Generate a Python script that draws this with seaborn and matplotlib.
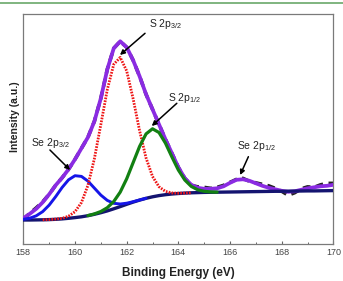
import matplotlib
matplotlib.use("Agg")
import matplotlib.pyplot as plt
from matplotlib.lines import Line2D
import seaborn as sns
import numpy as np

# ---------------- data ----------------
energy = [158.0, 158.25, 158.5, 158.75, 159.0, 159.25, 159.5, 159.75,
          160.0, 160.25, 160.5, 160.75, 161.0, 161.25, 161.5, 161.75,
          162.0, 162.25, 162.5, 162.75, 163.0, 163.25, 163.5, 163.75,
          164.0, 164.25, 164.5, 164.75, 165.0, 165.25, 165.5, 165.75,
          166.0, 166.25, 166.5, 166.75, 167.0, 167.25, 167.5, 167.75,
          168.0, 168.25, 168.5, 168.75, 169.0, 169.25, 169.5, 169.75, 170.0]

measured = [25, 31, 36.5, 42.5, 50, 59, 66.5, 75,
            85, 96, 107, 123, 146, 175, 196, 203,
            197, 184, 168, 150, 135, 120, 105, 91,
            77, 66, 59, 57.5, 57, 56, 57, 59,
            62, 65, 66, 63, 61.5, 60, 58.5, 56,
            53, 49, 51.5, 55.5, 57.5, 57, 59.5, 61, 61]

envelope = [26, 30.5, 35.5, 42, 50, 59, 66.5, 75,
            85, 96, 107, 123, 146, 175, 196, 203,
            197, 184, 168, 150, 135, 120, 105, 91,
            77, 66, 59.5, 56.5, 55.5, 55.5, 56, 58,
            61.5, 64.5, 65, 63.5, 61, 58.5, 56.5, 55,
            53.5, 52.5, 53, 54.5, 56, 57, 58, 58.5, 59.5]

background = [24.3, 24.3, 24.4, 24.5, 24.7, 25.0, 25.4, 26.0,
              26.7, 27.5, 28.6, 30.0, 31.6, 33.4, 35.5, 37.7,
              40.0, 42.2, 44.2, 46.0, 47.5, 48.7, 49.6, 50.3,
              50.8, 51.2, 51.5, 51.7, 51.9, 52.0, 52.1, 52.2,
              52.3, 52.4, 52.5, 52.6, 52.7, 52.8, 52.9, 53.0,
              53.0, 53.1, 53.2, 53.3, 53.4, 53.4, 53.5, 53.6, 53.7]

se32_x = [158.0, 158.25, 158.5, 158.75, 159.0, 159.25, 159.5, 159.75,
          160.0, 160.25, 160.5, 160.75, 161.0, 161.25, 161.5, 161.75,
          162.0, 162.25, 162.5, 162.75]
se32_y = [25.0, 26.1, 28.5, 32.7, 39.2, 47.6, 56.8, 64.5,
          68.6, 67.9, 63.2, 56.2, 49.2, 43.9, 41.0, 40.3,
          41.1, 42.6, 44.3, 46.0]

s32_x = [158.75, 159.0, 159.25, 159.5, 159.75, 160.0, 160.25, 160.5,
         160.75, 161.0, 161.25, 161.5, 161.75, 162.0, 162.25, 162.5,
         162.75, 163.0, 163.25, 163.5, 163.75, 164.0, 164.25, 164.5]
s32_y = [24.5, 24.7, 25.2, 26.0, 28.1, 32.6, 41.8, 58.9,
         85.6, 119.8, 154.7, 180.0, 186.9, 173.4, 145.5, 113.5,
         86.3, 67.8, 57.6, 52.9, 51.4, 51.1, 51.2, 51.5]

s12_x = [160.5, 160.75, 161.0, 161.25, 161.5, 161.75, 162.0, 162.25,
         162.5, 162.75, 163.0, 163.25, 163.5, 163.75, 164.0, 164.25,
         164.5, 164.75, 165.0, 165.25, 165.5]
s12_y = [28.7, 30.4, 32.8, 36.6, 42.8, 52.2, 65.5, 81.7,
         97.9, 110.4, 115.5, 111.8, 101.2, 87.4, 74.3, 64.3,
         57.9, 54.5, 53.0, 52.35, 52.1]

x_ticks = [158, 160, 162, 164, 166, 168, 170]
peak_labels = ["S 2p$_{3/2}$", "S 2p$_{1/2}$", "Se 2p$_{3/2}$", "Se 2p$_{1/2}$"]
label_pos = [(162.88, 217.6), (163.61, 143.6), (158.29, 98.6), (166.28, 95.3)]
arrow_tail = [(162.71, 211.0), (163.94, 141.0), (159.03, 94.3), (166.71, 87.6)]
arrow_head = [(161.74, 189.3), (162.97, 118.3), (159.81, 74.3), (166.39, 69.3)]

# ---------------- style ----------------
sns.set_style("white")
plt.rcParams["font.family"] = ["Liberation Sans", "DejaVu Sans"]
plt.rcParams["mathtext.fontset"] = "custom"
plt.rcParams["mathtext.rm"] = "Liberation Sans"
plt.rcParams["mathtext.it"] = "Liberation Sans:italic"
plt.rcParams["mathtext.bf"] = "Liberation Sans:bold"

fig = plt.figure(figsize=(3.43, 2.81), dpi=100)
ax = fig.add_axes([0.068, 0.1306, 0.904, 0.8196])

sns.lineplot(x=energy, y=measured, ax=ax, color="#222222", lw=2.5,
             linestyle=(0, (2.2, 1.6)), zorder=2)
sns.lineplot(x=energy, y=envelope, ax=ax, color="#8a2be2", lw=2.7, zorder=3)
sns.lineplot(x=energy, y=background, ax=ax, color="#141470", lw=2.4, zorder=4)
sns.lineplot(x=se32_x, y=se32_y, ax=ax, color="#1515e8", lw=2.1, zorder=5)
sns.lineplot(x=s32_x, y=s32_y, ax=ax, color="#ee1515", lw=2.0,
             linestyle=(0, (0.6, 0.45)), zorder=5)
sns.lineplot(x=s12_x, y=s12_y, ax=ax, color="#128012", lw=2.3, zorder=5)

ax.set_xlim(158, 170)
ax.set_ylim(0, 230.3)
ax.set_xticks(x_ticks)
ax.set_xticks(np.arange(159, 170, 2), minor=True)
ax.set_yticks([])
ax.tick_params(axis="x", which="major", direction="in", length=2.5, width=0.8,
               color="#666666", labelsize=6.5, labelcolor="#444444", pad=2.5,
               bottom=True)
ax.tick_params(axis="x", which="minor", direction="in", length=1.8, width=0.7,
               color="#666666", bottom=True)
for s in ax.spines.values():
    s.set_color("#7a7a7a")
    s.set_linewidth(0.9)

ax.set_xlabel("Binding Energy (eV)", fontsize=8.5, fontweight="bold", color="#222222")
ax.xaxis.set_label_coords(0.5, -0.10)
ax.set_ylabel("Intensity (a.u.)", fontsize=7.5, fontweight="bold", color="#222222")
ax.yaxis.set_label_coords(-0.012, 0.555)

for txt, lp, at, ah in zip(peak_labels, label_pos, arrow_tail, arrow_head):
    ax.text(lp[0], lp[1], txt, fontsize=7.5, color="#222222", ha="left",
            va="baseline", zorder=6)
    ax.annotate("", xy=ah, xytext=at,
                arrowprops=dict(arrowstyle="-|>", color="black", lw=1.1,
                                mutation_scale=7, shrinkA=0, shrinkB=0),
                zorder=6)

fig.add_artist(Line2D([0, 1], [1 - 2.8 / 281, 1 - 2.8 / 281],
                      transform=fig.transFigure, color="#6aa86a", lw=1.2))

fig.savefig("out.png", dpi=100)
